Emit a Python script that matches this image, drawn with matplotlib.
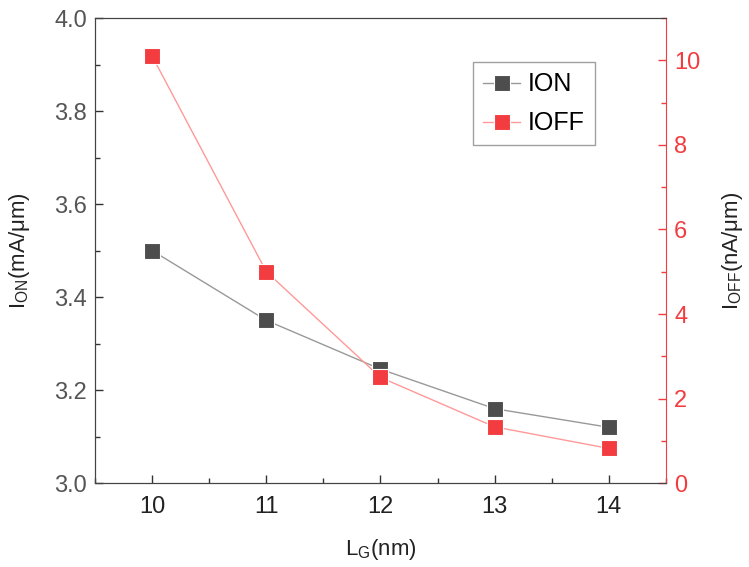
import matplotlib
matplotlib.use('Agg')
import matplotlib.pyplot as plt
from matplotlib.ticker import MultipleLocator

plt.rcParams['font.family'] = ['Liberation Sans', 'DejaVu Sans']
plt.rcParams['mathtext.fontset'] = 'custom'
plt.rcParams['mathtext.rm'] = 'Liberation Sans'
plt.rcParams['mathtext.it'] = 'Liberation Sans'

# gate length (nm)
lg = [10, 11, 12, 13, 14]
# on current (mA/um)
i_on = [3.50, 3.35, 3.245, 3.16, 3.12]
# off current (nA/um)
i_off = [10.1, 5.0, 2.5, 1.33, 0.82]

DARK = '#4d4d4d'
RED = '#f23c3f'

fig = plt.figure(figsize=(7.49, 5.67), dpi=100)
ax = fig.add_axes([0.127, 0.148, 0.762, 0.820])
ax2 = ax.twinx()

l1, = ax.plot(lg, i_on, color='#999999', lw=1.0, marker='s', markersize=12,
              markerfacecolor=DARK, markeredgecolor='white', markeredgewidth=0.8,
              label='ION', zorder=3)
l2, = ax2.plot(lg, i_off, color='#ff9999', lw=1.0, marker='s', markersize=12,
               markerfacecolor=RED, markeredgecolor='white', markeredgewidth=0.8,
               label='IOFF', zorder=3)

ax.set_xlim(9.5, 14.5)
ax.set_ylim(3.0, 4.0)
ax2.set_ylim(0, 11)

ax.xaxis.set_major_locator(MultipleLocator(1))
ax.xaxis.set_minor_locator(MultipleLocator(0.5))
ax.yaxis.set_major_locator(MultipleLocator(0.2))
ax.yaxis.set_minor_locator(MultipleLocator(0.1))
ax2.yaxis.set_major_locator(MultipleLocator(2))
ax2.yaxis.set_minor_locator(MultipleLocator(1))

ax.tick_params(axis='both', which='both', direction='in', labelsize=17,
               colors='#333333')
ax.tick_params(which='major', length=6, width=1)
ax.tick_params(which='minor', length=3.5, width=1)
ax.tick_params(axis='x', labelcolor='#222222', pad=9)
ax.tick_params(axis='y', labelcolor='#555555', pad=6)
ax.tick_params(top=False, which='both')
ax2.tick_params(axis='y', which='both', direction='in', colors=RED,
                labelsize=17, pad=6)
ax2.tick_params(which='major', length=6, width=1)
ax2.tick_params(which='minor', length=3.5, width=1)

for s in ['left', 'bottom', 'top']:
    ax.spines[s].set_color('#444444')
    ax2.spines[s].set_color('#444444')
ax2.spines['right'].set_color(RED)
ax.spines['right'].set_visible(False)

ax.set_xlabel(r'L$_\mathrm{G}$(nm)', fontsize=16, color='#222222', labelpad=14)
ax.set_ylabel(r'I$_\mathrm{ON}$(mA/$\mu$m)', fontsize=16, color='#222222',
              labelpad=16)
ax2.set_ylabel(r'I$_\mathrm{OFF}$(nA/$\mu$m)', fontsize=16, color='#222222',
               labelpad=14)

leg = ax2.legend([l1, l2], ['ION', 'IOFF'], loc='upper left',
                 bbox_to_anchor=(0.662, 0.905), borderaxespad=0, fontsize=18,
                 frameon=True, fancybox=False, edgecolor='#888888',
                 handlelength=1.5, handletextpad=0.3, borderpad=0.4,
                 labelspacing=0.6)
leg.get_frame().set_linewidth(1.0)

fig.savefig('out.png', dpi=100)
